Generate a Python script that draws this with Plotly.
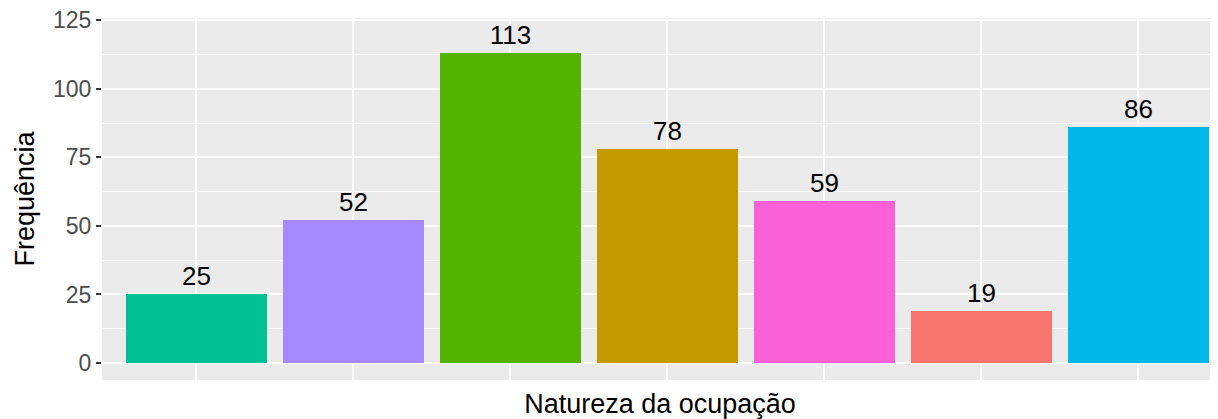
import plotly.graph_objects as go

categories = ["Cat. 1", "Cat. 2", "Cat. 3", "Cat. 4", "Cat. 5", "Cat. 6", "Cat. 7"]
values = [25, 52, 113, 78, 59, 19, 86]
colors = ["#00C094", "#A58AFF", "#53B400", "#C49A00", "#FB61D7", "#F8766D", "#00B6EB"]
y_ticks = [0, 25, 50, 75, 100, 125]

fig = go.Figure(go.Bar(
    x=list(range(len(categories))),
    y=values,
    marker=dict(color=colors, line=dict(width=0)),
    width=0.9,
    text=[str(v) for v in values],
    textposition="outside",
    textfont=dict(family="Liberation Sans, Arial, sans-serif", size=26, color="black"),
    cliponaxis=False,
    hovertext=categories,
))

# page body has an 8px default margin; size the figure to fill the rest of the window
fig.update_layout(
    width=1210, height=411,
    margin=dict(l=94, r=0, t=10, b=39),
    plot_bgcolor="#EBEBEB",
    paper_bgcolor="white",
    showlegend=False,
    font=dict(family="Liberation Sans, Arial, sans-serif"),
    bargap=0,
)
fig.update_xaxes(
    automargin=False,
    range=[-0.6, 6.508],
    tickvals=list(range(len(categories))),
    showticklabels=False,
    ticks="",
    showgrid=True, gridcolor="white", gridwidth=2,
    zeroline=False,
    title=dict(text="Natureza da ocupação", font=dict(size=27, color="black"), standoff=14),
)
fig.update_yaxes(
    automargin=False,
    range=[-6.2, 125.8],
    tickvals=y_ticks,
    ticks="outside", ticklen=5, tickwidth=2, tickcolor="#333333",
    tickfont=dict(size=23, color="#4D4D4D"),
    ticklabeloverflow="allow",
    showgrid=True, gridcolor="white", gridwidth=2,
    minor=dict(tickvals=[12.5, 37.5, 62.5, 87.5, 112.5], showgrid=True, gridcolor="white", gridwidth=1, ticks=""),
    zeroline=False,
    title=dict(text="Frequência", font=dict(size=27, color="black"), standoff=10),
)

fig.write_html("out.html")
